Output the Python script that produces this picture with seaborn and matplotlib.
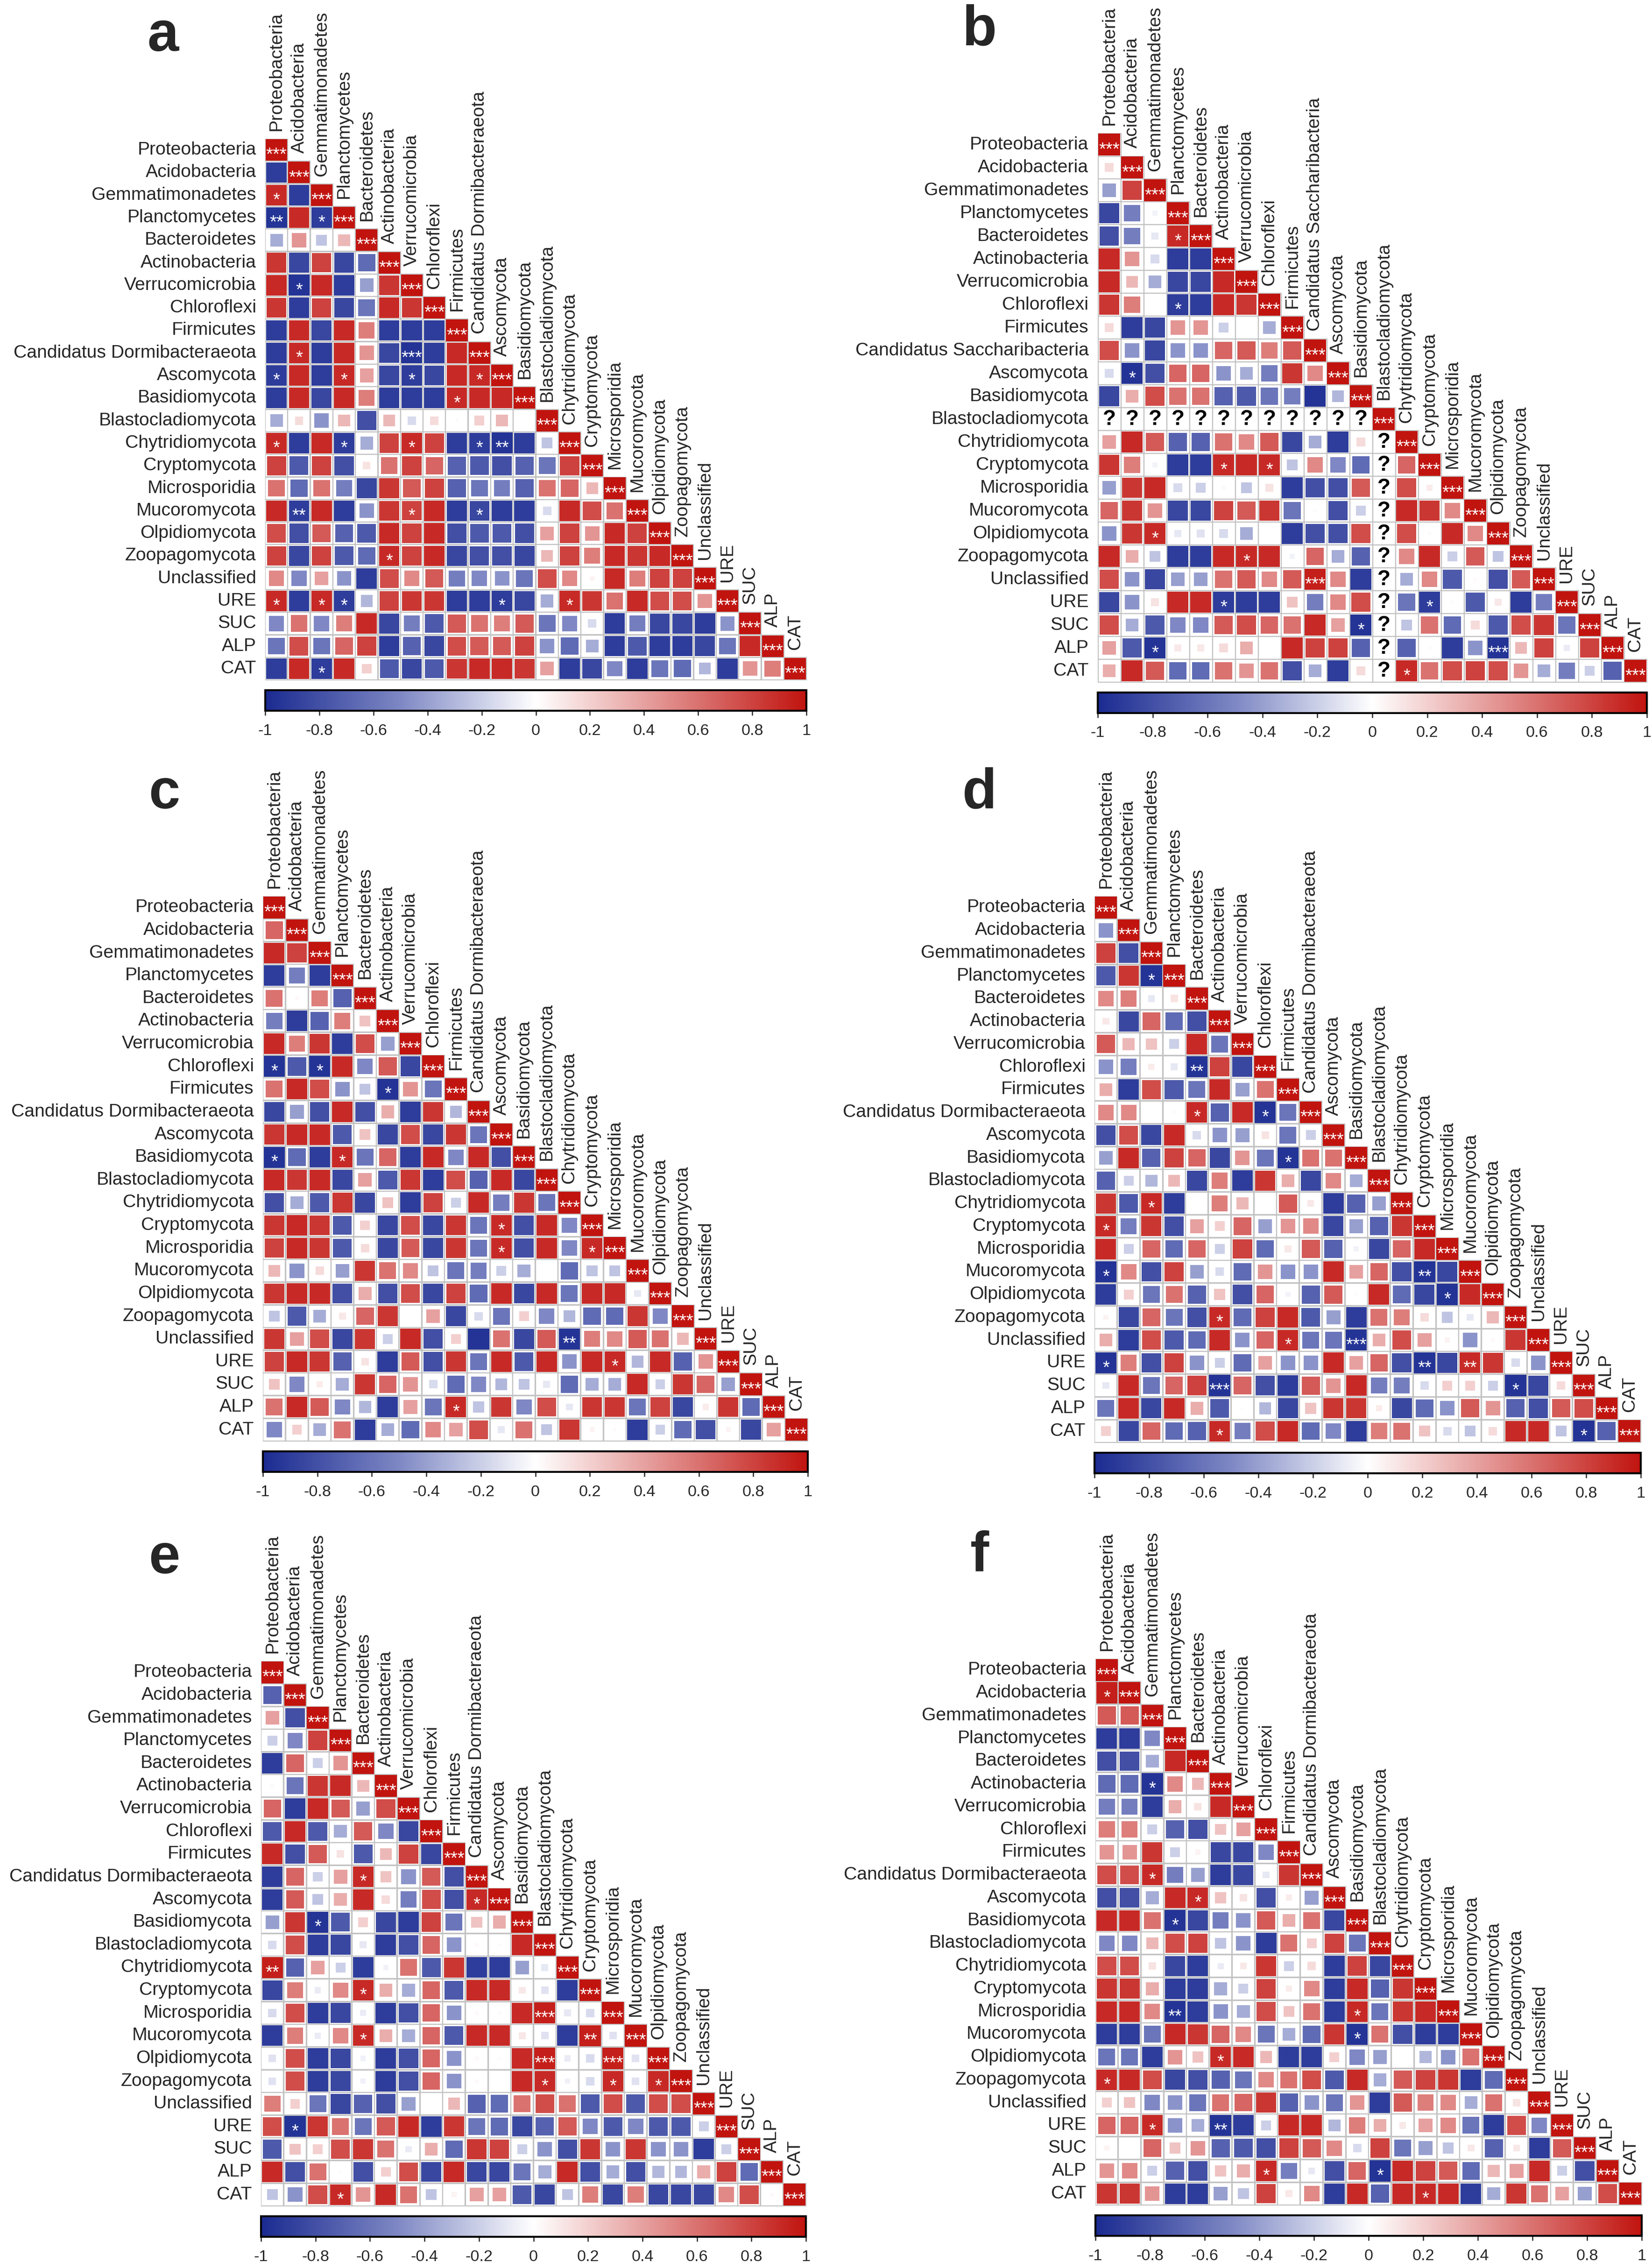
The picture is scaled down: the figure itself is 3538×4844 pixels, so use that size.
import numpy as np
import pandas as pd
import matplotlib
matplotlib.use('Agg')
import matplotlib.pyplot as plt
import seaborn as sns
from matplotlib.colors import LinearSegmentedColormap, Normalize
from matplotlib.cm import ScalarMappable

sns.set_style('white')
plt.rcParams['font.family'] = ['Liberation Sans', 'DejaVu Sans']

# variable names (rows / columns of every matrix)
taxa = ['Proteobacteria', 'Acidobacteria', 'Gemmatimonadetes', 'Planctomycetes',
        'Bacteroidetes', 'Actinobacteria', 'Verrucomicrobia', 'Chloroflexi',
        'Firmicutes', 'Candidatus Dormibacteraeota', 'Ascomycota', 'Basidiomycota',
        'Blastocladiomycota', 'Chytridiomycota', 'Cryptomycota', 'Microsporidia',
        'Mucoromycota', 'Olpidiomycota', 'Zoopagomycota', 'Unclassified',
        'URE', 'SUC', 'ALP', 'CAT']
taxa_b = taxa[:9] + ['Candidatus Saccharibacteria'] + taxa[10:]

# lower triangle correlations, row i holds columns 0..i-1
a_r = [
    [-0.9],
    [0.9, -0.9],
    [-0.95, 0.9, -0.9],
    [-0.35, 0.45, -0.25, 0.3],
    [0.85, -0.85, 0.8, -0.85, -0.65],
    [0.9, -0.95, 0.9, -0.9, -0.4, 0.85],
    [0.85, -0.9, 0.8, -0.85, -0.6, 0.9, 0.85],
    [-0.9, 0.9, -0.85, 0.9, 0.55, -0.9, -0.9, -0.9],
    [-0.9, 0.9, -0.9, 0.9, 0.45, -0.85, -0.95, -0.9, 0.9],
    [-0.9, 0.9, -0.9, 0.9, 0.4, -0.85, -0.9, -0.85, 0.9, 0.9],
    [-0.9, 0.9, -0.85, 0.9, 0.55, -0.9, -0.9, -0.9, 0.9, 0.9, 0.9],
    [-0.35, 0.15, -0.45, 0.3, -0.8, 0.3, -0.15, 0.15, 0.02, 0.2, 0.3, 0.0],
    [0.9, -0.9, 0.9, -0.9, -0.35, 0.8, 0.9, 0.8, -0.9, -0.9, -0.95, -0.9, -0.25],
    [0.8, -0.75, 0.8, -0.8, 0.12, 0.6, 0.8, 0.65, -0.7, -0.75, -0.8, -0.7, -0.6, 0.8],
    [0.6, -0.65, 0.6, -0.55, -0.85, 0.85, 0.7, 0.8, -0.7, -0.6, -0.55, -0.7, 0.6, 0.65, 0.3],
    [0.9, -0.9, 0.9, -0.9, -0.45, 0.85, 0.8, 0.9, -0.9, -0.85, -0.9, -0.9, -0.15, 0.9, 0.75, 0.6],
    [0.75, -0.8, 0.7, -0.7, -0.75, 0.9, 0.8, 0.9, -0.8, -0.75, -0.75, -0.8, 0.4, 0.8, 0.45, 0.9, 0.8],
    [0.8, -0.85, 0.8, -0.75, -0.65, 0.9, 0.8, 0.9, -0.85, -0.8, -0.8, -0.85, 0.3, 0.8, 0.55, 0.9, 0.85, 0.9],
    [0.5, -0.5, 0.4, -0.45, -0.9, 0.75, 0.5, 0.7, -0.55, -0.5, -0.45, -0.6, 0.75, 0.5, 0.05, 0.9, 0.55, 0.8, 0.8],
    [0.9, -0.9, 0.9, -0.9, -0.3, 0.8, 0.85, 0.85, -0.9, -0.9, -0.9, -0.85, -0.35, 0.9, 0.85, 0.6, 0.9, 0.75, 0.75, 0.45],
    [-0.5, 0.6, -0.5, 0.55, 0.9, -0.85, -0.55, -0.75, 0.7, 0.6, 0.55, 0.7, -0.6, -0.5, -0.15, -0.9, -0.55, -0.85, -0.85, -0.9, -0.45],
    [-0.6, 0.75, -0.6, 0.65, 0.8, -0.9, -0.7, -0.85, 0.75, 0.7, 0.7, 0.8, -0.45, -0.65, -0.35, -0.9, -0.75, -0.9, -0.9, -0.85, -0.6, 0.9],
    [-0.9, 0.9, -0.9, 0.9, 0.2, -0.75, -0.85, -0.75, 0.85, 0.9, 0.9, 0.85, 0.4, -0.9, -0.85, -0.5, -0.9, -0.6, -0.65, -0.3, -0.9, 0.45, 0.55],
]
a_stars = [(2, 0, 1), (3, 0, 2), (3, 2, 1), (6, 1, 1), (9, 1, 1), (9, 6, 3), (10, 0, 1), (10, 3, 1),
           (10, 6, 1), (10, 9, 1), (11, 8, 1), (13, 0, 1), (13, 3, 1), (13, 6, 1), (13, 9, 1),
           (13, 10, 2), (16, 1, 2), (16, 6, 1), (16, 9, 1), (18, 5, 1), (20, 0, 1), (20, 2, 1),
           (20, 3, 1), (20, 10, 1), (20, 13, 1), (23, 2, 1)]

b_r = [
    [0.15],
    [-0.4, 0.8],
    [-0.85, -0.55, -0.05],
    [-0.8, -0.55, -0.1, 0.9],
    [0.9, 0.45, -0.15, -0.9, -0.9],
    [0.9, 0.3, -0.35, -0.85, -0.85, 0.9],
    [0.85, 0.55, 0.0, -0.9, -0.9, 0.9, 0.85],
    [0.15, -0.9, -0.85, 0.45, 0.45, -0.2, 0.0, -0.35],
    [0.75, -0.45, -0.85, -0.45, -0.45, 0.65, 0.7, 0.55, 0.7],
    [-0.15, -0.95, -0.8, 0.65, 0.65, -0.45, -0.35, -0.55, 0.85, 0.5],
    [-0.85, 0.35, 0.75, 0.6, 0.6, -0.7, -0.75, -0.6, -0.55, -0.95, -0.3],
    [None] * 12,
    [0.4, 0.9, 0.7, -0.7, -0.7, 0.6, 0.5, 0.7, -0.85, -0.35, -0.9, 0.15, None],
    [0.85, 0.55, -0.05, -0.9, -0.9, 0.9, 0.9, 0.9, -0.25, 0.5, -0.5, -0.65, None, 0.65],
    [-0.4, 0.85, 0.9, -0.15, -0.2, 0.03, -0.25, 0.12, -0.9, -0.8, -0.8, 0.7, None, 0.75, 0.08],
    [0.65, 0.85, 0.45, -0.85, -0.85, 0.8, 0.7, 0.85, -0.6, 0.02, -0.8, -0.2, None, 0.9, 0.85, 0.5],
    [-0.45, 0.85, 0.9, -0.1, -0.12, -0.15, -0.35, 0.0, -0.9, -0.8, -0.8, 0.75, None, 0.75, 0.02, 0.9, 0.5],
    [0.9, 0.35, -0.25, -0.9, -0.9, 0.9, 0.9, 0.9, -0.05, 0.65, -0.35, -0.7, None, 0.5, 0.9, -0.2, 0.7, -0.25],
    [0.75, -0.45, -0.85, -0.4, -0.4, 0.6, 0.7, 0.5, 0.7, 0.95, 0.5, -0.9, None, -0.35, 0.5, -0.75, 0.02, -0.8, 0.7],
    [-0.85, -0.45, 0.12, 0.9, 0.9, -0.9, -0.9, -0.9, 0.25, -0.55, 0.5, 0.75, None, -0.6, -0.9, 0.02, -0.75, 0.1, -0.9, -0.55],
    [0.75, -0.35, -0.75, -0.5, -0.5, 0.7, 0.75, 0.65, 0.6, 0.9, 0.4, -0.95, None, -0.25, 0.6, -0.65, 0.15, -0.75, 0.75, 0.85, -0.6],
    [0.4, -0.75, -0.95, 0.1, 0.1, 0.15, 0.35, 0.0, 0.9, 0.8, 0.8, -0.7, None, -0.7, 0.02, -0.9, -0.45, -0.95, 0.3, 0.8, -0.08, 0.8],
    [0.35, 0.9, 0.7, -0.65, -0.65, 0.6, 0.45, 0.6, -0.8, -0.35, -0.9, 0.15, None, 0.9, 0.6, 0.75, 0.8, 0.75, 0.45, -0.35, -0.55, -0.2, -0.7],
]
b_stars = [(4, 3, 1), (7, 3, 1), (10, 1, 1), (14, 5, 1), (14, 7, 1), (17, 2, 1), (18, 6, 1),
           (19, 9, 3), (20, 5, 1), (20, 14, 1), (21, 11, 1), (22, 2, 1), (22, 17, 3), (23, 13, 1)]

c_r = [
    [0.65],
    [0.9, 0.8],
    [-0.9, -0.55, -0.9],
    [0.6, 0.03, 0.55, -0.7],
    [-0.55, -0.9, -0.7, 0.55, 0.25],
    [0.9, 0.55, 0.85, -0.9, 0.75, -0.4],
    [-0.95, -0.75, -0.95, 0.9, -0.5, 0.7, -0.85],
    [0.6, 0.9, 0.75, -0.45, -0.25, -0.95, 0.45, -0.6],
    [-0.85, -0.4, -0.8, 0.9, -0.8, 0.35, -0.9, 0.85, -0.3],
    [0.85, 0.9, 0.9, -0.75, 0.25, -0.85, 0.75, -0.85, 0.85, -0.6],
    [-0.95, -0.65, -0.9, 0.9, -0.6, 0.65, -0.9, 0.9, -0.5, 0.9, -0.8],
    [0.9, 0.85, 0.9, -0.85, 0.4, -0.75, 0.85, -0.9, 0.75, -0.7, 0.9, -0.85],
    [-0.8, -0.35, -0.75, 0.85, -0.85, 0.25, -0.9, 0.8, -0.2, 0.9, -0.55, 0.85, -0.6],
    [0.85, 0.9, 0.85, -0.75, 0.2, -0.85, 0.75, -0.85, 0.85, -0.6, 0.9, -0.8, 0.9, -0.5],
    [0.8, 0.9, 0.85, -0.75, 0.15, -0.85, 0.7, -0.85, 0.85, -0.6, 0.9, -0.8, 0.9, -0.5, 0.9],
    [0.3, -0.45, 0.15, -0.4, 0.85, 0.6, 0.5, -0.25, -0.6, -0.55, -0.2, -0.35, 0.0, -0.65, -0.25, -0.25],
    [0.85, 0.9, 0.9, -0.8, 0.35, -0.8, 0.75, -0.85, 0.8, -0.65, 0.9, -0.85, 0.9, -0.6, 0.9, 0.9, -0.1],
    [-0.25, -0.75, -0.35, 0.1, 0.65, 0.85, 0.0, 0.4, -0.85, -0.15, -0.6, 0.2, -0.5, -0.3, -0.65, -0.65, 0.85, -0.5],
    [0.85, 0.4, 0.75, -0.85, 0.85, -0.2, 0.9, -0.8, 0.2, -0.95, 0.6, -0.85, 0.7, -0.95, 0.55, 0.5, 0.7, 0.6, 0.3],
    [0.8, 0.9, 0.85, -0.7, 0.12, -0.9, 0.7, -0.8, 0.85, -0.6, 0.9, -0.75, 0.9, -0.45, 0.9, 0.9, -0.3, 0.9, -0.7, 0.45],
    [0.25, -0.5, 0.08, -0.35, 0.85, 0.65, 0.45, -0.15, -0.65, -0.5, -0.3, -0.25, -0.1, -0.65, -0.35, -0.35, 0.9, -0.2, 0.85, 0.65, -0.4],
    [0.6, 0.9, 0.7, -0.5, -0.3, -0.9, 0.4, -0.6, 0.9, -0.25, 0.85, -0.5, 0.75, -0.1, 0.85, 0.85, -0.6, 0.8, -0.85, 0.08, 0.85, -0.65],
    [-0.5, 0.2, -0.35, 0.6, -0.9, -0.35, -0.65, 0.5, 0.4, 0.75, -0.1, 0.6, -0.25, 0.85, 0.05, 0.02, -0.9, -0.2, -0.65, -0.8, 0.05, -0.85, 0.4],
]
c_stars = [(7, 0, 1), (7, 2, 1), (8, 5, 1), (11, 0, 1), (11, 3, 1), (14, 10, 1), (15, 10, 1),
           (15, 14, 1), (19, 13, 2), (20, 15, 1), (22, 8, 1)]

d_r = [
    [-0.45],
    [0.8, -0.8],
    [-0.75, 0.85, -0.95],
    [0.5, 0.55, -0.1, 0.12],
    [0.1, -0.85, 0.65, -0.65, -0.8],
    [0.7, 0.3, 0.25, -0.2, 0.9, -0.6],
    [-0.45, -0.55, 0.08, -0.1, -0.95, 0.8, -0.85],
    [0.35, -0.9, 0.75, -0.75, -0.6, 0.9, -0.4, 0.6],
    [0.5, 0.5, 0.0, 0.02, 0.9, -0.7, 0.9, -0.95, -0.6],
    [-0.8, 0.75, -0.85, 0.9, -0.15, -0.45, -0.4, 0.12, -0.6, -0.2],
    [-0.4, 0.9, -0.7, 0.8, 0.65, -0.85, 0.45, -0.6, -0.95, 0.6, 0.6],
    [-0.7, -0.2, -0.3, 0.3, -0.85, 0.55, -0.9, 0.85, 0.35, -0.85, 0.5, -0.35],
    [0.85, -0.75, 0.9, -0.9, 0.0, 0.55, 0.3, 0.0, 0.7, 0.1, -0.9, -0.7, -0.4],
    [0.9, -0.55, 0.85, -0.8, 0.4, 0.2, 0.65, -0.4, 0.45, 0.5, -0.85, -0.4, -0.7, 0.85],
    [0.9, -0.2, 0.65, -0.65, 0.65, -0.2, 0.8, -0.65, 0.1, 0.7, -0.7, -0.05, -0.85, 0.65, 0.9],
    [-0.95, 0.5, -0.8, 0.8, -0.4, -0.15, -0.65, 0.45, -0.45, -0.45, 0.9, 0.4, 0.65, -0.8, -0.95, -0.85],
    [-0.9, 0.2, -0.6, 0.6, -0.7, 0.25, -0.8, 0.65, -0.05, -0.7, 0.7, 0.02, 0.9, -0.65, -0.85, -0.95, 0.9],
    [0.05, -0.85, 0.65, -0.6, -0.8, 0.9, -0.65, 0.8, 0.9, -0.75, -0.4, -0.9, 0.6, 0.55, 0.15, -0.25, -0.1, 0.3],
    [0.35, -0.9, 0.75, -0.75, -0.65, 0.9, -0.45, 0.65, 0.9, -0.6, -0.6, -0.95, 0.35, 0.75, 0.4, 0.05, -0.45, 0.03, 0.85],
    [-0.95, 0.55, -0.8, 0.8, -0.45, -0.2, -0.65, 0.4, -0.45, -0.45, 0.9, 0.4, 0.65, -0.8, -0.95, -0.85, 0.9, 0.85, -0.15, -0.45],
    [-0.1, 0.9, -0.6, 0.65, 0.8, -0.95, 0.65, -0.8, -0.9, 0.7, 0.45, 0.9, -0.55, -0.55, -0.15, 0.2, 0.2, -0.2, -0.95, -0.85, 0.15],
    [-0.6, 0.9, -0.85, 0.9, 0.35, -0.75, 0.02, -0.3, -0.85, 0.25, 0.85, 0.85, 0.08, -0.85, -0.65, -0.45, 0.7, 0.45, -0.7, -0.8, 0.7, 0.75],
    [0.2, -0.85, 0.65, -0.65, -0.7, 0.9, -0.55, 0.75, 0.9, -0.65, -0.5, -0.9, 0.55, 0.6, 0.25, -0.15, -0.25, 0.15, 0.9, 0.9, -0.25, -0.95, -0.7],
]
d_stars = [(3, 2, 1), (7, 4, 2), (9, 4, 1), (9, 7, 1), (11, 8, 1), (13, 2, 1), (14, 0, 1),
           (16, 0, 1), (16, 14, 2), (17, 15, 1), (18, 5, 1), (19, 8, 1), (19, 11, 3), (20, 0, 1),
           (20, 14, 2), (20, 16, 2), (21, 5, 3), (21, 18, 1), (23, 5, 1), (23, 21, 1)]

e_r = [
    [-0.7],
    [0.4, -0.8],
    [-0.2, -0.5, 0.8],
    [-0.9, 0.65, -0.2, 0.45],
    [0.03, -0.6, 0.85, 0.9, 0.3],
    [0.65, -0.9, 0.9, 0.7, -0.4, 0.75],
    [-0.75, 0.9, -0.75, -0.35, 0.7, -0.5, -0.85],
    [0.9, -0.8, 0.7, 0.12, -0.75, 0.3, 0.8, -0.85],
    [-0.9, 0.65, -0.2, 0.4, 0.9, 0.25, -0.45, 0.7, -0.8],
    [-0.9, 0.7, -0.25, 0.35, 0.9, 0.15, -0.55, 0.75, -0.8, 0.9],
    [-0.4, 0.85, -0.95, -0.75, 0.2, -0.85, -0.9, 0.8, -0.6, 0.25, 0.35],
    [-0.15, 0.75, -0.9, -0.85, -0.1, -0.9, -0.8, 0.65, -0.45, 0.03, 0.02, 0.9],
    [0.95, -0.7, 0.4, -0.2, -0.9, -0.05, 0.6, -0.75, 0.85, -0.9, -0.9, -0.4, -0.1],
    [-0.85, 0.55, -0.08, 0.5, 0.9, 0.35, -0.35, 0.65, -0.75, 0.9, 0.9, 0.1, -0.12, -0.9],
    [-0.15, 0.75, -0.9, -0.85, -0.08, -0.9, -0.8, 0.65, -0.45, 0.03, 0.02, 0.9, 0.95, -0.1, -0.15],
    [-0.9, 0.55, -0.08, 0.5, 0.9, 0.35, -0.35, 0.65, -0.75, 0.9, 0.9, 0.1, -0.12, -0.9, 0.95, -0.12],
    [-0.12, 0.75, -0.9, -0.85, -0.06, -0.9, -0.8, 0.65, -0.45, 0.03, 0.02, 0.9, 0.95, -0.08, -0.15, 0.95, -0.12],
    [-0.12, 0.75, -0.9, -0.85, -0.06, -0.9, -0.8, 0.65, -0.45, 0.03, 0.0, 0.9, 0.9, -0.06, -0.15, 0.9, -0.12, 0.9],
    [0.55, 0.2, -0.6, -0.85, -0.7, -0.8, -0.4, 0.0, 0.3, -0.7, -0.65, 0.6, 0.75, 0.6, -0.75, 0.75, -0.75, 0.75, 0.75],
    [0.75, -0.95, 0.85, 0.6, -0.6, 0.7, 0.9, -0.9, 0.85, -0.6, -0.65, -0.85, -0.7, 0.7, -0.5, -0.75, -0.5, -0.75, -0.75, -0.2],
    [-0.75, 0.25, 0.2, 0.75, 0.85, 0.6, -0.08, 0.35, -0.65, 0.85, 0.8, -0.2, -0.45, -0.8, 0.85, -0.45, 0.85, -0.45, -0.45, -0.9, -0.2],
    [0.9, -0.8, 0.6, 0.02, -0.8, 0.2, 0.75, -0.85, 0.9, -0.85, -0.85, -0.6, -0.35, 0.9, -0.8, -0.35, -0.8, -0.3, -0.3, 0.35, 0.8, -0.65],
    [-0.25, -0.45, 0.75, 0.9, 0.45, 0.9, 0.6, -0.25, 0.05, 0.4, 0.4, -0.75, -0.85, -0.25, 0.55, -0.85, 0.55, -0.85, -0.85, -0.85, 0.5, 0.75, 0.03],
]
e_stars = [(9, 4, 1), (10, 9, 1), (11, 2, 1), (13, 0, 2), (14, 4, 1), (15, 12, 3), (16, 4, 1),
           (16, 14, 2), (17, 12, 3), (17, 15, 3), (18, 12, 1), (18, 15, 1), (18, 17, 1),
           (20, 1, 1), (23, 3, 1)]

f_r = [
    [0.95],
    [0.7, 0.7],
    [-0.9, -0.9, -0.5],
    [-0.8, -0.8, -0.35, 0.9],
    [-0.65, -0.65, -0.95, 0.5, 0.3],
    [-0.55, -0.55, -0.9, 0.35, 0.12, 0.9],
    [0.55, 0.55, -0.2, -0.7, -0.8, 0.25, 0.4],
    [0.45, 0.45, 0.85, -0.2, 0.05, -0.85, -0.85, -0.5],
    [0.75, 0.75, 0.9, -0.55, -0.4, -0.9, -0.85, -0.1, 0.85],
    [-0.8, -0.8, -0.35, 0.9, 0.9, 0.25, 0.12, -0.8, 0.08, -0.4],
    [0.9, 0.9, 0.6, -0.95, -0.85, -0.55, -0.45, 0.7, 0.35, 0.6, -0.85],
    [-0.5, -0.5, 0.3, 0.75, 0.8, -0.25, -0.45, -0.9, 0.6, 0.2, 0.8, -0.6],
    [0.75, 0.75, 0.12, -0.85, -0.9, -0.08, 0.1, 0.85, -0.2, 0.15, -0.9, 0.8, -0.85],
    [0.85, 0.85, 0.35, -0.9, -0.9, -0.35, -0.2, 0.8, 0.08, 0.5, -0.9, 0.9, -0.7, 0.85],
    [0.9, 0.9, 0.5, -0.95, -0.9, -0.45, -0.35, 0.75, 0.25, 0.6, -0.9, 0.9, -0.6, 0.85, 0.9],
    [-0.9, -0.9, -0.6, 0.9, 0.85, 0.65, 0.5, -0.6, -0.35, -0.65, 0.85, -0.95, 0.6, -0.8, -0.9, -0.9],
    [-0.6, -0.6, -0.9, 0.45, 0.25, 0.9, 0.9, 0.3, -0.9, -0.9, 0.2, -0.5, -0.4, 0.0, -0.3, -0.45, 0.6],
    [0.9, 0.9, 0.75, -0.85, -0.8, -0.7, -0.6, 0.5, 0.6, 0.75, -0.75, 0.9, -0.35, 0.7, 0.8, 0.85, -0.9, -0.65],
    [0.2, 0.25, -0.5, -0.45, -0.6, 0.6, 0.65, 0.85, -0.7, -0.45, -0.6, 0.45, -0.9, 0.7, 0.55, 0.5, -0.35, 0.6, 0.12],
    [0.65, 0.65, 0.9, -0.45, -0.35, -0.95, -0.9, -0.2, 0.9, 0.9, -0.3, 0.55, 0.35, 0.1, 0.4, 0.5, -0.6, -0.9, 0.75, -0.5],
    [0.05, 0.0, 0.65, 0.25, 0.45, -0.7, -0.75, -0.8, 0.8, 0.7, 0.5, -0.15, 0.8, -0.6, -0.4, -0.25, 0.1, -0.7, 0.1, -0.9, 0.7],
    [0.45, 0.5, -0.2, -0.7, -0.8, 0.25, 0.35, 0.9, -0.55, -0.1, -0.8, 0.65, -0.95, 0.9, 0.8, 0.7, -0.65, 0.3, 0.4, 0.9, -0.2, -0.8],
    [0.85, 0.85, 0.45, -0.9, -0.9, -0.4, -0.25, 0.8, 0.1, 0.5, -0.9, 0.9, -0.7, 0.9, 0.9, 0.9, -0.9, -0.35, 0.85, 0.6, 0.4, -0.4, 0.75],
]
f_stars = [(1, 0, 1), (5, 2, 1), (9, 2, 1), (10, 4, 1), (11, 3, 1), (15, 3, 2), (15, 11, 1),
           (16, 11, 1), (17, 5, 1), (18, 0, 1), (20, 2, 1), (20, 5, 2), (22, 7, 1), (22, 12, 1),
           (23, 14, 1)]

cbar_ticks = [-1, -0.8, -0.6, -0.4, -0.2, 0, 0.2, 0.4, 0.6, 0.8, 1]

W, H = 3538, 4844
DPI = 300
cmap = LinearSegmentedColormap.from_list(
    'bwr_corr', [(0, '#1B2B91'), (0.25, '#7E88C4'), (0.5, '#FFFFFF'),
                 (0.75, '#E08A88'), (1, '#C1140F')])

fig = plt.figure(figsize=(W / DPI, H / DPI), dpi=DPI)


def px_axes(left, top, w, h):
    return fig.add_axes([left / W, 1 - (top + h) / H, w / W, h / H])


def draw_panel(letter, rows, stars, labels, left, top, size, letter_x):
    n = len(labels)
    cell_px = size / n
    cell_pt = cell_px / DPI * 72
    ax = px_axes(left, top, size, size)
    cax = px_axes(left, top + size + 22, size, 44)

    mat = np.full((n, n), np.nan)
    for i, row in enumerate(rows, start=1):
        mat[i, :i] = np.array(row, dtype=float)
    np.fill_diagonal(mat, 1.0)

    ii, jj = np.tril_indices(n)
    cells = pd.DataFrame({'x': jj + 0.5, 'y': ii + 0.5, 'r': mat[ii, jj]})

    # white cells with a grey outline for the lower triangle
    sns.scatterplot(data=cells, x='x', y='y', marker='s', s=cell_pt ** 2, color='white',
                    edgecolor='#c2c2c2', linewidth=0.55, legend=False, ax=ax, zorder=1)

    missing = cells[cells['r'].isna()]
    df = cells.dropna().copy()
    df['a'] = df['r'].abs()
    # square area proportional to |r|
    sns.scatterplot(data=df, x='x', y='y', hue='r', size='a', palette=cmap, hue_norm=(-1, 1),
                    size_norm=(0, 1), sizes=(0, (0.955 * cell_pt) ** 2), marker='s',
                    linewidth=0, legend=False, ax=ax, zorder=3)
    ax.set_xlim(0, n)
    ax.set_ylim(n, 0)
    ax.set_axis_off()

    # significance stars (baseline placed so the asterisks sit mid-cell)
    star_fs = 9.2
    em_cells = star_fs / 72 * DPI / cell_px
    for i, j, k in stars + [(d, d, 3) for d in range(n)]:
        ax.text(j + 0.5, i + 0.5 + 0.56 * em_cells, '*' * k, color='white', fontsize=star_fs,
                ha='center', va='baseline', zorder=4)
    for _, m in missing.iterrows():
        ax.text(m['x'], m['y'], '?', color='black', fontsize=11, fontweight='bold',
                ha='center', va='center', zorder=4)

    for i, lab in enumerate(labels):
        ax.text(-0.4, i + 0.5, lab, ha='right', va='center', fontsize=9.4)
        ax.text(i + 0.5, i - 0.35, lab, ha='center', va='bottom', rotation=90, fontsize=9.4)

    cb = fig.colorbar(ScalarMappable(norm=Normalize(-1, 1), cmap=cmap), cax=cax,
                      orientation='horizontal', ticks=cbar_ticks)
    cb.outline.set_linewidth(1.0)
    cb.outline.set_edgecolor('black')
    cax.set_xticklabels([f'{t:g}' for t in cbar_ticks])
    cax.tick_params(axis='x', direction='out', length=2.4, width=0.6, labelsize=8.2, pad=4.2)

    fig.text(letter_x / W, 1 - (top - 188) / H, letter, fontsize=29, fontweight='bold',
             ha='center', va='baseline')


draw_panel('a', a_r, a_stars, taxa, 568, 297, 1159, 349)
draw_panel('b', b_r, b_stars, taxa_b, 2351, 285, 1176, 2098)
draw_panel('c', c_r, c_stars, taxa, 563, 1919, 1167, 352)
draw_panel('d', d_r, d_stars, taxa, 2344, 1919, 1170, 2098)
draw_panel('e', e_r, e_stars, taxa, 559, 3557, 1167, 352)
draw_panel('f', f_r, f_stars, taxa, 2346, 3552, 1170, 2098)

fig.savefig('out.png', dpi=DPI, facecolor='white')
